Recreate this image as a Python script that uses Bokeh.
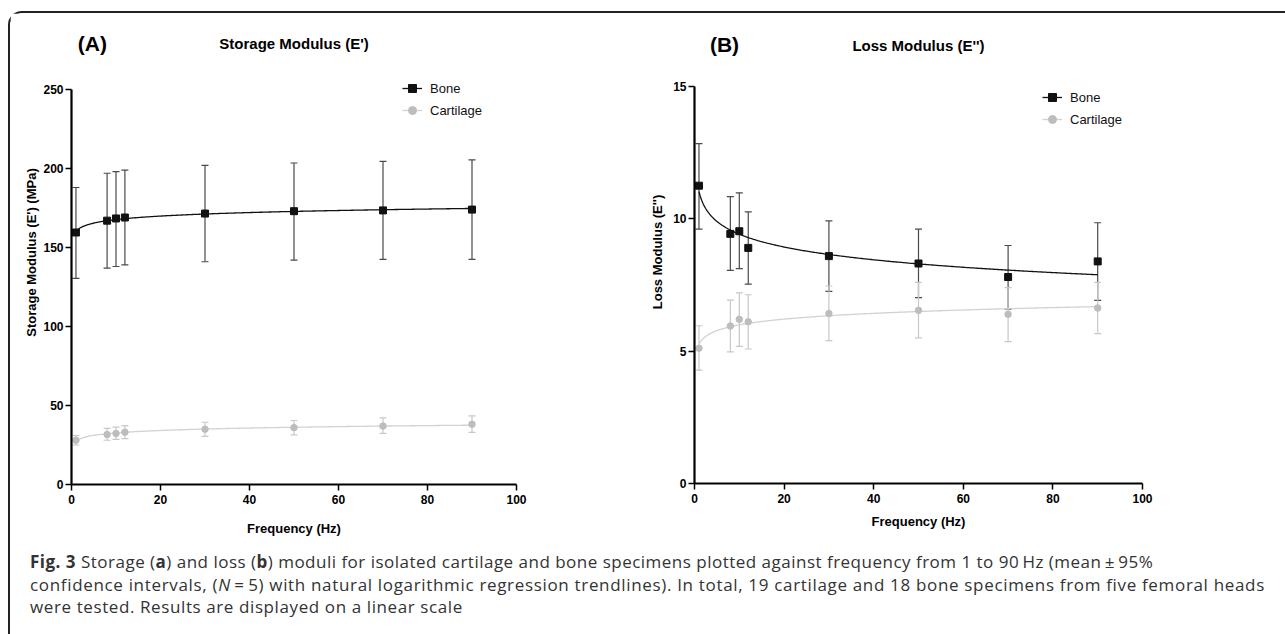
import numpy as np
from bokeh.plotting import figure
from bokeh.models import (Range1d, FixedTicker, Whisker, TeeHead, ColumnDataSource,
                          Legend, LegendItem, Label, Div)
from bokeh.layouts import row, column
from bokeh.embed import file_html
from bokeh.resources import INLINE

# ---------------- data ----------------
freq = [1, 8, 10, 12, 30, 50, 70, 90]

storage_bone_mean = [159.5, 167.0, 168.4, 169.0, 171.5, 173.0, 173.5, 174.0]
storage_bone_upper = [188.0, 197.0, 198.0, 199.0, 202.0, 203.5, 204.5, 205.5]
storage_bone_lower = [130.5, 137.0, 138.0, 139.0, 141.0, 142.0, 142.5, 142.5]
storage_cart_mean = [28.0, 31.6, 32.3, 33.1, 35.0, 36.0, 37.0, 38.2]
storage_cart_upper = [31.0, 35.5, 36.3, 37.3, 39.4, 40.5, 42.2, 43.5]
storage_cart_lower = [25.0, 28.0, 28.5, 29.0, 30.4, 31.4, 32.3, 33.0]

loss_bone_mean = [11.25, 9.43, 9.53, 8.90, 8.59, 8.31, 7.80, 8.39]
loss_bone_upper = [12.84, 10.84, 10.98, 10.26, 9.92, 9.61, 8.99, 9.85]
loss_bone_lower = [9.61, 8.05, 8.12, 7.53, 7.26, 7.02, 6.59, 6.92]
loss_cart_mean = [5.11, 5.95, 6.20, 6.11, 6.42, 6.54, 6.39, 6.63]
loss_cart_upper = [5.96, 6.93, 7.20, 7.13, 7.46, 7.60, 7.40, 7.60]
loss_cart_lower = [4.28, 4.97, 5.18, 5.08, 5.40, 5.50, 5.36, 5.66]

x_ticks = [0, 20, 40, 60, 80, 100]
storage_ticks = [0, 50, 100, 150, 200, 250]
loss_ticks = [0, 5, 10, 15]

series_names = ["Bone", "Cartilage"]

FONT = "Liberation Sans"
BONE_C = "#111111"
BONE_ERR = "#4a4a4a"
CART_C = "#bdbdbd"
CART_ERR = "#c8c8c8"
CART_LINE = "#d2d2d2"


def log_trend(x, y):
    b, a = np.polyfit(np.log(x), y, 1)
    xs = np.linspace(min(x), max(x), 300)
    return xs, a + b * np.log(xs)


def make_panel(yaxis_max, view_max, yticks, series, tag, title, ylabel, frame_w, frame_h,
               bl, br, legend_loc, tag_xy, title_y, xlabel_standoff, ylabel_standoff):
    p = figure(frame_width=frame_w, frame_height=frame_h,
               x_range=Range1d(0, 100), y_range=Range1d(0, view_max),
               output_backend="svg", toolbar_location=None,
               min_border_left=bl, min_border_top=7, min_border_right=br,
               min_border_bottom=50)
    p.outline_line_color = None
    p.grid.visible = False
    p.background_fill_color = "white"
    p.border_fill_color = "white"

    items = []
    for (name, mean, up, lo, col, ecol, lcol, marker, msize) in series:
        src = ColumnDataSource(dict(x=freq, y=mean, upper=up, lower=lo))
        w = Whisker(source=src, base="x", upper="upper", lower="lower",
                    line_color=ecol, line_width=1.2,
                    upper_head=TeeHead(size=7, line_color=ecol, line_width=1.2),
                    lower_head=TeeHead(size=7, line_color=ecol, line_width=1.2))
        p.add_layout(w)
        xs, ys = log_trend(freq, mean)
        lr = p.line(xs, ys, line_color=lcol, line_width=1.3)
        sr = p.scatter("x", "y", source=src, marker=marker, size=msize,
                       fill_color=col, line_color=col)
        items.append(LegendItem(label=name, renderers=[lr, sr]))

    leg = Legend(items=items, location=legend_loc, border_line_color=None,
                 background_fill_alpha=0, padding=0, margin=0, spacing=2,
                 glyph_width=20, glyph_height=20, label_height=20,
                 label_standoff=8, label_text_font=FONT,
                 label_text_font_size="13px", label_text_color="#111111")
    p.add_layout(leg)

    for ax in (p.xaxis[0], p.yaxis[0]):
        ax.axis_line_width = 2.2
        ax.axis_line_color = "black"
        ax.major_tick_line_width = 1.5
        ax.major_tick_line_color = "black"
        ax.major_tick_out = 6
        ax.major_tick_in = 0
        ax.minor_tick_out = 0
        ax.minor_tick_in = 0
        ax.major_label_text_font = FONT
        ax.major_label_text_font_style = "bold"
        ax.major_label_text_font_size = "12px"
        ax.major_label_text_color = "black"
        ax.axis_label_text_font = FONT
        ax.axis_label_text_font_style = "bold"
        ax.axis_label_text_font_size = "13px"
        ax.axis_label_text_color = "black"
    p.xaxis[0].ticker = FixedTicker(ticks=x_ticks)
    p.yaxis[0].ticker = FixedTicker(ticks=yticks)
    p.yaxis[0].bounds = (0, yaxis_max)
    p.xaxis[0].bounds = (0, 100)
    p.xaxis[0].axis_label = "Frequency (Hz)"
    p.yaxis[0].axis_label = ylabel
    p.xaxis[0].major_label_standoff = 4
    p.xaxis[0].axis_label_standoff = xlabel_standoff
    p.yaxis[0].major_label_standoff = 2
    p.yaxis[0].axis_label_standoff = ylabel_standoff

    p.add_layout(Label(x=tag_xy[0], y=tag_xy[1], text=tag, text_align="center",
                       text_baseline="middle", text_font=FONT, text_font_style="bold",
                       text_font_size="21px", text_color="black"))
    p.add_layout(Label(x=50, y=title_y, text=title, text_align="center",
                       text_baseline="middle", text_font=FONT, text_font_style="bold",
                       text_font_size="15px", text_color="black"))
    return p


# left: 1.58 px per MPa, frame 464 px tall -> visible 0..293.7 with axis drawn 0..250
p1 = make_panel(
    250, 293.7, storage_ticks,
    [(series_names[0], storage_bone_mean, storage_bone_upper, storage_bone_lower,
      BONE_C, BONE_ERR, BONE_C, "square", 7),
     (series_names[1], storage_cart_mean, storage_cart_upper, storage_cart_lower,
      CART_C, CART_ERR, CART_LINE, "circle", 6.5)],
    "(A)", "Storage Modulus (E')", "Storage Modulus (E') (MPa)",
    445, 464, 61, 118, (331, 364), (4.7, 279), 279, 14, 1)

# right: 26.47 px per unit, frame 463 px tall -> visible 0..17.49 with axis drawn 0..15
p2 = make_panel(
    15, 17.49, loss_ticks,
    [(series_names[0], loss_bone_mean, loss_bone_upper, loss_bone_lower,
      BONE_C, BONE_ERR, BONE_C, "square", 7),
     (series_names[1], loss_cart_mean, loss_cart_upper, loss_cart_lower,
      CART_C, CART_ERR, CART_LINE, "circle", 6.5)],
    "(B)", "Loss Modulus (E'')", "Loss Modulus (E'')",
    448, 463, 60, 120, (348, 354), (6.7, 16.6), 16.53, 8, 5)

caption_html = (
    "<div style='letter-spacing:0.49px'><b>Fig. 3</b> Storage (<b>a</b>) and loss (<b>b</b>) moduli for isolated cartilage and "
    "bone specimens plotted against frequency from 1 to 90&thinsp;Hz (mean&thinsp;&plusmn;&thinsp;95%</div>"
    "<div style='letter-spacing:0.67px'>confidence intervals, (<i>N</i>&thinsp;=&thinsp;5) with natural logarithmic regression trendlines). "
    "In total, 19 cartilage and 18 bone specimens from five femoral heads</div>"
    "<div style='letter-spacing:0.6px'>were tested. Results are displayed on a linear scale</div>"
)
caption = Div(text=caption_html, width=1262,
              styles={"font-family": "Open Sans", "font-size": "17px",
                      "line-height": "22.5px", "color": "#333333",
                      "padding-left": "15px", "padding-top": "8px",
                      "padding-bottom": "10px",
                      "white-space": "nowrap"})

inner = column(row(p1, p2), caption, width=1277, margin=(11, 0, 0, 8),
               styles={"border-top": "2px solid #222222",
                       "border-left": "2px solid #222222",
                       "border-top-left-radius": "14px"})

open("out.html", "w").write(file_html(inner, INLINE))
